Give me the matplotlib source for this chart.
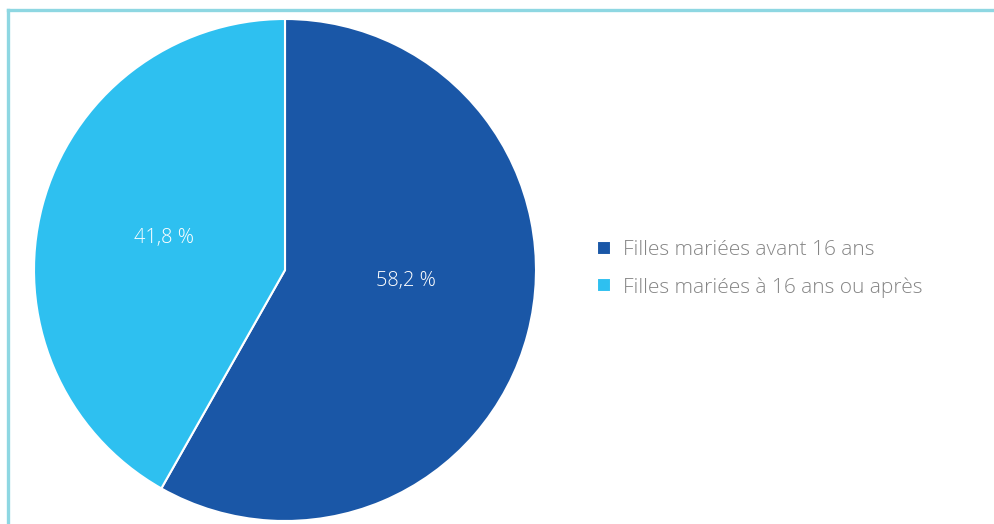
import numpy as np
import matplotlib
matplotlib.use('Agg')
import matplotlib.pyplot as plt
from matplotlib.lines import Line2D

plt.rc('font', family=['Open Sans', 'DejaVu Sans'], weight='light')

# data
labels = ['Filles mariées avant 16 ans', 'Filles mariées à 16 ans ou après']
shares = [58.2, 41.8]
colors = ['#1a57a7', '#2ec0f0']


def fmt_pct(p):
    return ('%.1f %%' % p).replace('.', ',')


fig = plt.figure(figsize=(9.95, 5.24), dpi=100)

# frame lines (top and left)
fig.add_artist(Line2D([8 / 995, 1.0], [1 - 10 / 524, 1 - 10 / 524],
                      transform=fig.transFigure, color='#8ed7e2', linewidth=2.4))
fig.add_artist(Line2D([8 / 995, 8 / 995], [0.0, 1 - 10 / 524],
                      transform=fig.transFigure, color='#8ed7e2', linewidth=2.4))

ax = fig.add_axes([34 / 995, 3 / 524, 502 / 995, 502 / 524])
wedges, texts, autotexts = ax.pie(shares, colors=colors, startangle=90, counterclock=False,
                                  autopct=fmt_pct, pctdistance=0.5,
                                  wedgeprops=dict(edgecolor='white', linewidth=1.5),
                                  textprops=dict(color='white', fontsize=14.4))
ax.set_aspect('equal')
ax.set_xlim(-1.0, 1.0)
ax.set_ylim(-1.0, 1.0)

# the big slice label sits a bit higher in the original
x0, y0 = autotexts[0].get_position()
autotexts[0].set_position((x0, y0 + 0.085))

fig.legend(wedges, labels, loc='center left', bbox_to_anchor=(597 / 995, 1 - 269 / 524),
           frameon=False, fontsize=15, labelcolor='#858585',
           handlelength=0.68, handleheight=0.68, handletextpad=0.55,
           labelspacing=0.8, borderpad=0, borderaxespad=0)

fig.savefig('out.png', dpi=100, facecolor='white')
